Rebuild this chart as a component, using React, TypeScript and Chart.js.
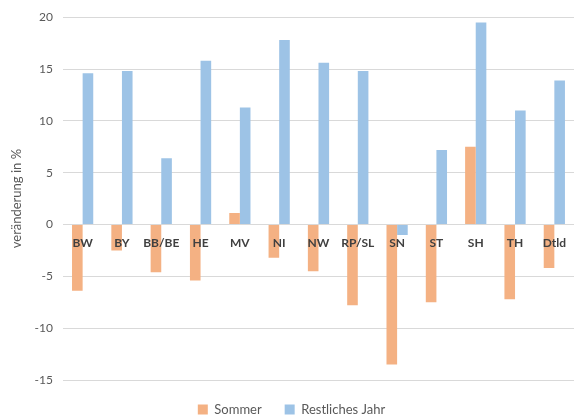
import React, { useEffect, useRef } from "react";
import { Chart, registerables } from "chart.js";

Chart.register(...registerables);

const categories = ["BW", "BY", "BB/BE", "HE", "MV", "NI", "NW", "RP/SL", "SN", "ST", "SH", "TH", "Dtld"];
const sommer = [-6.4, -2.5, -4.6, -5.4, 1.1, -3.2, -4.5, -7.8, -13.5, -7.5, 7.5, -7.2, -4.2];
const restlichesJahr = [14.6, 14.8, 6.4, 15.8, 11.3, 17.8, 15.6, 14.8, -1.0, 7.2, 19.5, 11.0, 13.9];
const seriesNames = ["Sommer", "Restliches Jahr"];
const yTitle = "veränderung in %";

export default function App() {
  const ref = useRef<HTMLCanvasElement>(null);
  useEffect(() => {
    document.body.style.margin = "0";
    const font = "Lato, 'Open Sans', 'DejaVu Sans', sans-serif";
    const chart = new Chart(ref.current!, {
      type: "bar",
      data: {
        labels: categories,
        datasets: [
          { label: seriesNames[0], data: sommer, backgroundColor: "#F4B183", categoryPercentage: 0.54, barPercentage: 1 },
          { label: seriesNames[1], data: restlichesJahr, backgroundColor: "#9DC3E6", categoryPercentage: 0.54, barPercentage: 1 },
        ],
      },
      options: {
        animation: false,
        responsive: false,
        maintainAspectRatio: false,
        layout: { padding: { top: 10, right: 3, left: 9, bottom: -8 } },
        plugins: {
          tooltip: { enabled: false },
          legend: {
            position: "bottom",
            labels: {
              boxWidth: 10,
              boxHeight: 10,
              color: "#595959",
              font: { family: font, size: 13 },
              padding: 23,
            },
          },
        },
        scales: {
          x: {
            position: { y: 0 } as any,
            grid: { display: false },
            border: { display: false },
            ticks: {
              z: 1,
              color: "#404040",
              font: { family: font, size: 12, weight: "bold" },
              padding: 3,
              maxRotation: 0,
              minRotation: 0,
              autoSkip: false,
            },
          },
          y: {
            min: -15,
            max: 20,
            ticks: { stepSize: 5, color: "#595959", font: { family: font, size: 12 }, padding: 10 },
            grid: { color: "#d9d9d9", drawTicks: false },
            border: { display: false },
            title: {
              display: true,
              text: yTitle,
              color: "#595959",
              font: { family: font, size: 13 },
              padding: { top: 0, bottom: 0 },
            },
          },
        },
      },
    });
    return () => chart.destroy();
  }, []);
  return <canvas ref={ref} width={577} height={418} style={{ display: "block" }} />;
}
